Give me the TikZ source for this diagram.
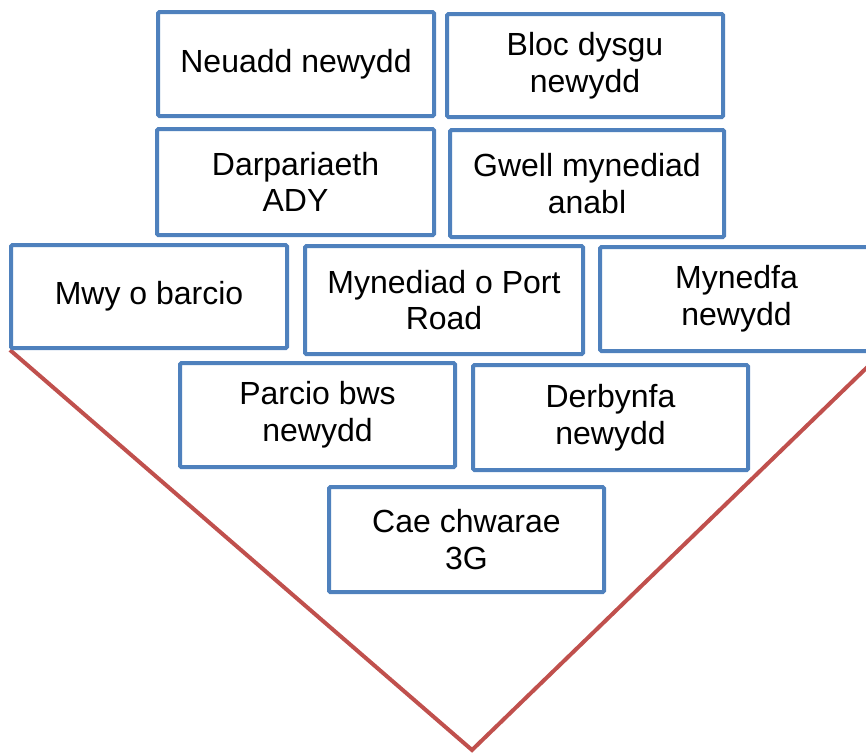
\documentclass[tikz,border=0pt]{standalone}
\usepackage{fontspec}
\setmainfont{Liberation Sans}
\definecolor{boxblue}{HTML}{4F81BD}
\definecolor{linered}{HTML}{C0504D}
\tikzset{
  ideabox/.style={draw=boxblue, line width=3pt, fill=white, rounded corners=1pt,
    inner sep=0pt, align=center, font=\fontsize{24}{27.5}\selectfont},
  redline/.style={draw=linered, line width=3pt, line join=miter}
}
\begin{document}
\begin{tikzpicture}[x=0.75pt,y=-0.75pt]
\useasboundingbox (0,0) rectangle (866,754);
\clip (0,0) rectangle (866,754);
\coordinate (tl) at (10,350);
\coordinate (apex) at (472,750);
\coordinate (tr) at (918,318);
\draw[redline] (tl) -- (apex) -- (tr);
\node[ideabox, minimum width=207pt, minimum height=78pt] (n1) at (296,64) {Neuadd newydd};
\node[ideabox, minimum width=207pt, minimum height=77.25pt] (n2) at (585,65.5) {Bloc dysgu\\newydd};
\node[ideabox, minimum width=207.75pt, minimum height=79.5pt] (n3) at (295.5,182) {Darpariaeth\\ADY};
\node[ideabox, minimum width=205.5pt, minimum height=80.25pt] (n4) at (587,183.5) {Gwell mynediad\\anabl};
\node[ideabox, minimum width=207pt, minimum height=77.25pt] (n5) at (149,296.5) {Mwy o barcio};
\node[ideabox, minimum width=208.5pt, minimum height=81pt] (n6) at (444,300) {Mynediad o Port\\Road};
\node[ideabox, minimum width=204.75pt, minimum height=78pt] (n7) at (736.5,299) {Mynedfa\\newydd};
\node[ideabox, minimum width=206.25pt, minimum height=78pt] (n8) at (317.5,415) {Parcio bws\\newydd};
\node[ideabox, minimum width=206.25pt, minimum height=78.75pt] (n9) at (610.5,417.5) {Derbynfa\\newydd};
\node[ideabox, minimum width=206.25pt, minimum height=78.75pt] (n10) at (466.5,539.5) {Cae chwarae\\3G};
\end{tikzpicture}
\end{document}
